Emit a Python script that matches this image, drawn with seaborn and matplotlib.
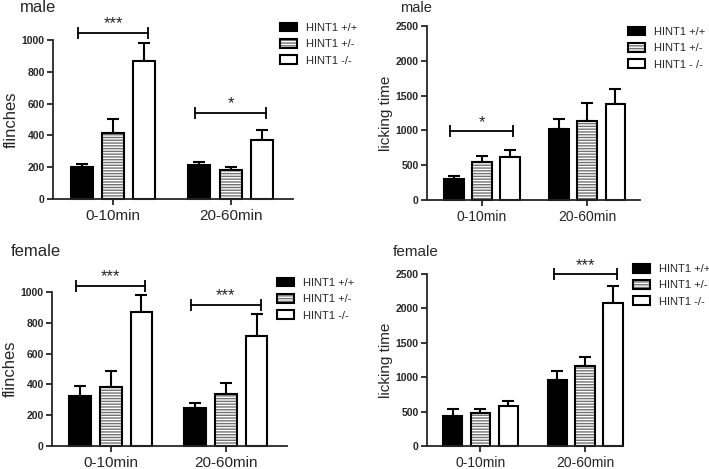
"""HINT1 formalin test: flinches and licking time, male and female."""
import matplotlib.pyplot as plt
from matplotlib.patches import Patch
import numpy as np
import pandas as pd
import seaborn as sns

times = ['0-10min', '20-60min']
genotypes = ['HINT1 +/+', 'HINT1 +/-', 'HINT1 -/-']

# mean values, one row per genotype, one column per time window
male_flinch = [[199, 211], [418, 182], [870, 368]]
male_flinch_err = [[21, 23], [86, 21], [113, 67]]
male_lick = [[305, 1015], [541, 1140], [623, 1379]]
male_lick_err = [[38, 144], [91, 258], [95, 211]]
female_flinch = [[326, 248], [384, 335], [870, 716]]
female_flinch_err = [[65, 28], [102, 71], [108, 139]]
female_lick = [[436, 959], [475, 1167], [586, 2073]]
female_lick_err = [[102, 135], [63, 131], [73, 252]]

# significance brackets: (time index, height, stars)
male_flinch_sig = [(0, 1044, '***'), (1, 544, '*')]
male_lick_sig = [(0, 991, '*')]
female_flinch_sig = [(0, 1039, '***'), (1, 918, '***')]
female_lick_sig = [(1, 2495, '***')]

W, H = 709, 469


def frac(left, top, right, bottom):
    """Pixel box -> figure fraction rect."""
    return [left / W, 1 - bottom / H, (right - left) / W, (bottom - top) / H]


panels = [
    dict(title='male', ylabel='flinches', means=male_flinch, errs=male_flinch_err,
         sig=male_flinch_sig, ymax=1000, step=200, labels=genotypes,
         rect=frac(53, 40, 293, 199), xlim=(-0.51, 1.53), title_xy=(20, 8),
         leg_xy=(280, 23), fs=12, tick_fs=11, ylab_fs=12),
    dict(title='male', ylabel='licking time', means=male_lick, errs=male_lick_err,
         sig=male_lick_sig, ymax=2500, step=500,
         labels=['HINT1 +/+', 'HINT1 +/-', 'HINT1 - /-'],
         rect=frac(427, 26, 640, 200), xlim=(-0.52, 1.5), title_xy=(400, 8),
         leg_xy=(628, 27), fs=10.5, tick_fs=10, ylab_fs=11),
    dict(title='female', ylabel='flinches', means=female_flinch, errs=female_flinch_err,
         sig=female_flinch_sig, ymax=1000, step=200, labels=genotypes,
         rect=frac(52, 292, 287, 446), xlim=(-0.51, 1.53), title_xy=(11, 252),
         leg_xy=(277, 278), fs=12, tick_fs=11, ylab_fs=12),
    dict(title='female', ylabel='licking time', means=female_lick, errs=female_lick_err,
         sig=female_lick_sig, ymax=2500, step=500, labels=genotypes,
         rect=frac(427, 274, 623, 446), xlim=(-0.51, 1.36), title_xy=(393, 252),
         leg_xy=(633, 264), fs=11, tick_fs=10, ylab_fs=11),
]

sns.set_style('ticks')
plt.rcParams['font.family'] = ['Liberation Sans', 'DejaVu Sans']
plt.rcParams['hatch.linewidth'] = 1.0
HATCH = '------'
HATCH_GRAY = (0.45, 0.45, 0.45, 1)
colors = ['black', 'white', 'white']

fig = plt.figure(figsize=(W / 100, H / 100), dpi=100)

for p in panels:
    ax = fig.add_axes(p['rect'])
    df = pd.DataFrame({
        'time': [t for g in genotypes for t in times],
        'genotype': [g for g in genotypes for t in times],
        'value': np.ravel(p['means']),
    })
    sns.barplot(data=df, x='time', y='value', hue='genotype', order=times,
                hue_order=genotypes, palette=colors, saturation=1,
                edgecolor='black', linewidth=1.5, width=0.8, gap=0.3,
                errorbar=None, legend=False, ax=ax)

    bar_groups = list(ax.containers)  # errorbar() below adds more containers
    for i, container in enumerate(bar_groups):
        xs = [b.get_x() + b.get_width() / 2 for b in container]
        ys = [b.get_height() for b in container]
        err = p['errs'][i]
        ax.errorbar(xs, ys, yerr=[np.zeros(len(err)), err], fmt='none',
                    ecolor='black', elinewidth=1.5, capsize=4.5, capthick=1.5,
                    zorder=0.9)
        for b in container:
            b.set_clip_on(False)
            if i == 1:
                b.set_hatch(HATCH)
                b._hatch_color = HATCH_GRAY

    # significance brackets between +/+ and -/- bars
    for g, y, stars in p['sig']:
        ax.plot([g - 0.3, g + 0.3], [y, y], color='black', lw=1.3,
                marker='|', markersize=8, markeredgewidth=1.3, clip_on=False)
        ax.annotate(stars, xy=(g, y), xytext=(0, 1), textcoords='offset points',
                    ha='center', va='bottom', fontsize=12,
                    annotation_clip=False)

    ax.set_xlim(*p['xlim'])
    ax.set_ylim(0, p['ymax'])
    ax.set_yticks(range(0, p['ymax'] + 1, p['step']))
    ax.set_xlabel('')
    ax.set_ylabel(p['ylabel'], fontsize=p['ylab_fs'], labelpad=2)
    ax.tick_params(axis='y', labelsize=7.5, width=1.3, length=4, pad=2)
    ax.tick_params(axis='x', labelsize=p['tick_fs'], width=1.3, length=4, pad=3)
    for lab in ax.get_yticklabels():
        lab.set_fontweight('bold')
    for side in ['left', 'bottom']:
        ax.spines[side].set_linewidth(1.3)
    sns.despine(ax=ax)

    fig.text(p['title_xy'][0] / W, 1 - p['title_xy'][1] / H, p['title'],
             fontsize=p['fs'], va='center', ha='left')

    handles = [Patch(facecolor=c, edgecolor='black', linewidth=1.5) for c in colors]
    handles[1].set_hatch(HATCH)
    handles[1]._hatch_color = HATCH_GRAY
    leg = fig.legend(handles=handles, labels=p['labels'], loc='upper left',
                     bbox_to_anchor=(p['leg_xy'][0] / W, 1 - p['leg_xy'][1] / H),
                     frameon=False, fontsize=8, handlelength=1.55,
                     handleheight=0.8, handletextpad=0.8, labelspacing=0.55,
                     borderpad=0, borderaxespad=0)
    leg.legend_handles[1]._hatch_color = HATCH_GRAY

fig.savefig('out.png', dpi=100)
